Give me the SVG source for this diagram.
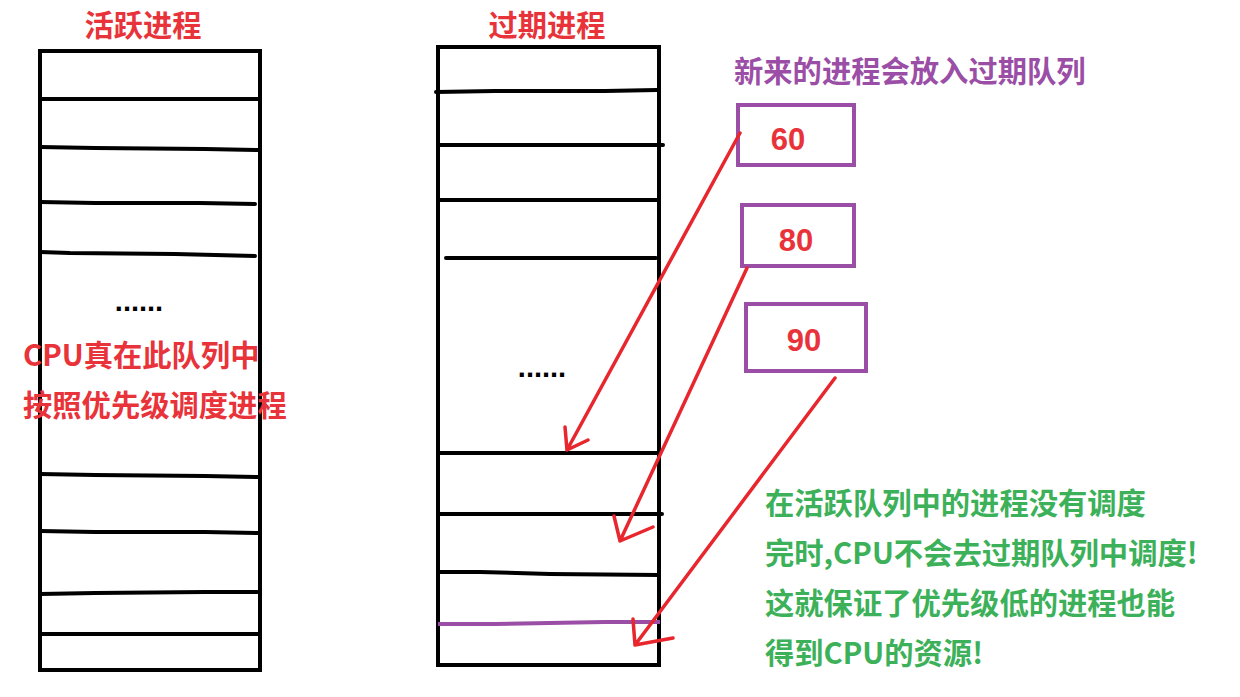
<svg xmlns="http://www.w3.org/2000/svg" width="1240" height="697" viewBox="0 0 1240 697">
<style>
.bg{fill:#ffffff}
.q{fill:none;stroke:#000;stroke-width:4}
.ln{stroke:#000;stroke-width:4;stroke-linecap:round;fill:none}
.pl{stroke:#9b4ea6;stroke-width:4;fill:none}
.box{fill:none;stroke:#9b4ea6;stroke-width:4}
.t{font-family:"Noto Sans CJK SC","Microsoft YaHei",sans-serif;font-weight:700;font-size:29.3px}
.red{fill:#e8333a}
.pur{fill:#9b4ea6}
.grn{fill:#3cb15a}
.num{font-family:"Liberation Sans",Arial,sans-serif;font-weight:700;font-size:31px;fill:#e8333a;text-anchor:middle}
.dots{font-family:"Liberation Sans",Arial,sans-serif;font-weight:700;font-size:29px;fill:#000;text-anchor:middle}
.arr{stroke:#e8262e;stroke-width:3.5;fill:none;stroke-linecap:round;stroke-linejoin:round}
</style>
<rect class="bg" x="0" y="0" width="1240" height="697"/>

<g id="active-queue">
  <text class="t red" x="143" y="36" text-anchor="middle">活跃进程</text>
  <rect class="q" x="40" y="51" width="220" height="619"/>
  <line class="ln" x1="40" y1="99" x2="260" y2="99"/>
  <polyline class="ln" points="40,147 95,148 205,149 258,150"/>
  <polyline class="ln" points="40,202 95,203 200,203 255,204"/>
  <polyline class="ln" points="40,252 70,253 175,254 255,256"/>
  <text class="dots" x="139" y="311">......</text>
  <text class="t red" x="23" y="366">CPU真在此队列中</text>
  <text class="t red" x="23" y="416">按照优先级调度进程</text>
  <polyline class="ln" points="40,474 95,475 205,476 258,477"/>
  <polyline class="ln" points="40,531 95,532 205,532 258,533"/>
  <polyline class="ln" points="40,594 95,593 205,592 258,592"/>
  <line class="ln" x1="40" y1="634" x2="260" y2="634"/>
</g>

<g id="expired-queue">
  <text class="t red" x="547" y="36" text-anchor="middle">过期进程</text>
  <rect class="q" x="438" y="47" width="221" height="618"/>
  <polyline class="ln" points="436,92 495,91 605,91 657,90"/>
  <line class="ln" x1="438" y1="145" x2="663" y2="145"/>
  <line class="ln" x1="438" y1="200" x2="659" y2="200"/>
  <line class="ln" x1="446" y1="258" x2="656" y2="258"/>
  <text class="dots" x="542" y="377">......</text>
  <line class="ln" x1="438" y1="453" x2="659" y2="453"/>
  <line class="ln" x1="438" y1="514" x2="662" y2="514"/>
  <polyline class="ln" points="438,572 480,572 550,574 659,575"/>
  <polyline class="pl" points="438,624 495,624 605,622 660,622"/>
</g>

<g id="new-note">
  <text class="t pur" x="734" y="82">新来的进程会放入过期队列</text>
</g>

<g id="proc-60">
  <rect class="box" x="738" y="105" width="116" height="60"/>
  <text class="num" x="788" y="150">60</text>
</g>
<g id="proc-80">
  <rect class="box" x="742" y="205" width="112" height="61"/>
  <text class="num" x="796" y="251">80</text>
</g>
<g id="proc-90">
  <rect class="box" x="746" y="304" width="120" height="67"/>
  <text class="num" x="804" y="351">90</text>
</g>

<g id="green-note">
  <text class="t grn" x="765" y="514">在活跃队列中的进程没有调度</text>
  <text class="t grn" x="765" y="564">完时,CPU不会去过期队列中调度!</text>
  <text class="t grn" x="765" y="614">这就保证了优先级低的进程也能</text>
  <text class="t grn" x="765" y="664">得到CPU的资源!</text>
</g>

<g id="connectors">
  <path class="arr" d="M740,133 L567,450 M565,427 L567,450 L588,440"/>
  <path class="arr" d="M747,268 L620,541 M614,516 L620,541 L653,527"/>
  <path class="arr" d="M835,378 L635,645 M633,619 L635,645 L673,638"/>
</g>
</svg>
